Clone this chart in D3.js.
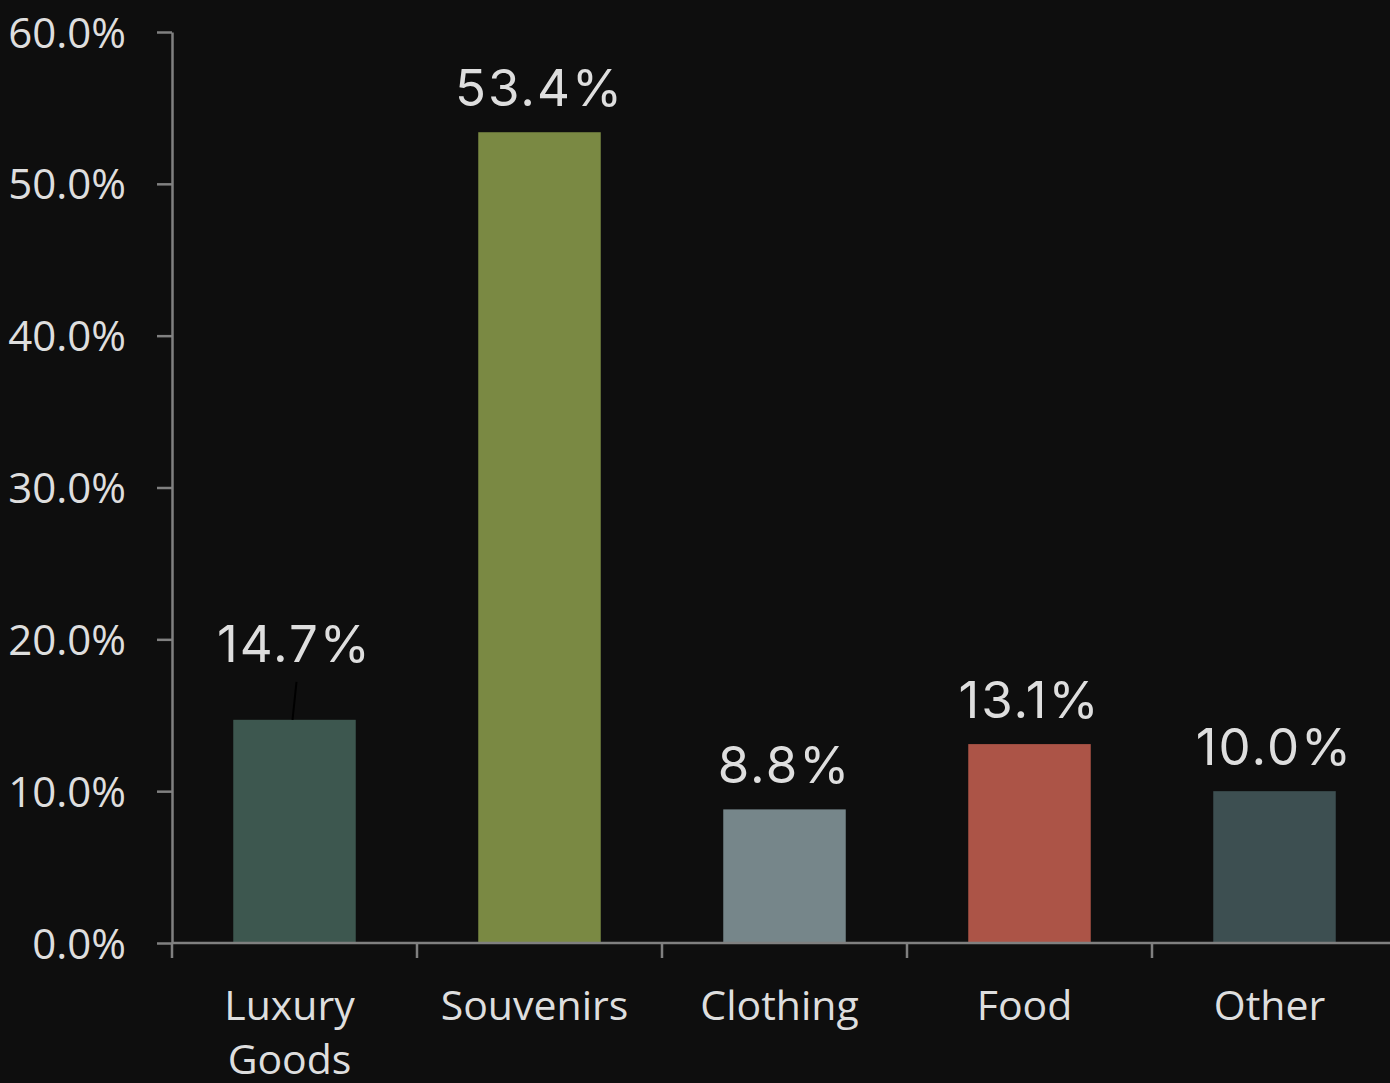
<!DOCTYPE html>
<html>
<head>
<meta charset="utf-8">
<script src="https://cdn.jsdelivr.net/npm/d3@7"></script>
<style>
  html, body { margin: 0; padding: 0; background: #0e0e0e; }
  svg { display: block; }
</style>
</head>
<body>
<svg id="chart" width="1390" height="1083"></svg>
<script>
// Share of spending by category (percent)
const categories = ["Luxury Goods", "Souvenirs", "Clothing", "Food", "Other"];
const shares = [14.7, 53.4, 8.8, 13.1, 10.0];
const barColors = ["#3d574f", "#7a8943", "#76868a", "#ac5447", "#3d4f51"];
const yTicks = [0, 10, 20, 30, 40, 50, 60];

const W = 1390, H = 1083;
const margin = { top: 32, right: -7, bottom: 140, left: 172 };
const svg = d3.select("#chart");

const x = d3.scaleBand()
  .domain(categories)
  .range([margin.left, W - margin.right])
  .paddingInner(0.5)
  .paddingOuter(0.25);

const y = d3.scaleLinear()
  .domain([0, 60])
  .range([H - margin.bottom, margin.top]);

const axisColor = "#808080";
const textColor = "#dedede";
const y0 = y(0);

// Bars
svg.append("g")
  .selectAll("rect")
  .data(categories)
  .join("rect")
  .attr("x", d => x(d))
  .attr("width", x.bandwidth())
  .attr("y", (d, i) => y(shares[i]))
  .attr("height", (d, i) => y0 - y(shares[i]))
  .attr("fill", (d, i) => barColors[i]);

// Y axis
const yAxis = svg.append("g")
  .attr("transform", `translate(${margin.left},0)`)
  .call(d3.axisLeft(y)
    .tickValues(yTicks)
    .tickFormat(d => d.toFixed(1) + "%")
    .tickSize(15)
    .tickSizeOuter(0)
    .tickPadding(31));
yAxis.select(".domain").attr("stroke", axisColor).attr("stroke-width", 2.5);
yAxis.selectAll(".tick line").attr("stroke", axisColor).attr("stroke-width", 2.5);
yAxis.selectAll(".tick text")
  .attr("fill", textColor)
  .attr("font-family", "'Open Sans', sans-serif")
  .attr("font-size", 42)
  .attr("dy", "0.36em");

// X axis: baseline plus ticks at category boundaries
const gap = x.step() - x.bandwidth();
const boundaries = categories.map(d => x(d) - gap / 2);
boundaries[0] = margin.left;
const xg = svg.append("g");
xg.append("line")
  .attr("x1", margin.left).attr("x2", W)
  .attr("y1", y0).attr("y2", y0)
  .attr("stroke", axisColor).attr("stroke-width", 2.5);
xg.selectAll("line.tick")
  .data(boundaries)
  .join("line")
  .attr("class", "tick")
  .attr("x1", d => d).attr("x2", d => d)
  .attr("y1", y0).attr("y2", y0 + 15)
  .attr("stroke", axisColor).attr("stroke-width", 2.5);

// Category labels (wrapped onto lines)
const catLabels = xg.selectAll("text.cat")
  .data(categories)
  .join("text")
  .attr("class", "cat")
  .attr("text-anchor", "middle")
  .attr("fill", textColor)
  .attr("font-family", "'Open Sans', sans-serif")
  .attr("font-size", 41)
  .attr("transform", d => `translate(${x(d) + x.bandwidth() / 2 - 5},${y0 + 77})`);
catLabels.each(function(d) {
  const words = d.split(" ");
  d3.select(this).selectAll("tspan")
    .data(words)
    .join("tspan")
    .attr("x", 0)
    .attr("dy", (w, i) => i === 0 ? 0 : 54)
    .text(w => w);
});

// Value labels; the first one sits higher with a leader line to its bar
const labelLift = [32, 0, 0, 0, 0];
const labels = svg.append("g");
categories.forEach((d, i) => {
  const cx = x(d) + x.bandwidth() / 2;
  const top = y(shares[i]);
  const baseline = top - 26 - labelLift[i];
  if (labelLift[i] > 0) {
    labels.append("line")
      .attr("x1", cx + 2).attr("y1", baseline + 20)
      .attr("x2", cx - 2).attr("y2", top)
      .attr("stroke", "#000").attr("stroke-width", 2);
  }
  labels.append("text")
    .attr("x", cx)
    .attr("y", baseline)
    .attr("text-anchor", "middle")
    .attr("fill", textColor)
    .attr("font-family", "Inter, sans-serif")
    .attr("font-size", 51)
    .attr("letter-spacing", 2)
    .text(shares[i].toFixed(1) + "%");
});
</script>
</body>
</html>
